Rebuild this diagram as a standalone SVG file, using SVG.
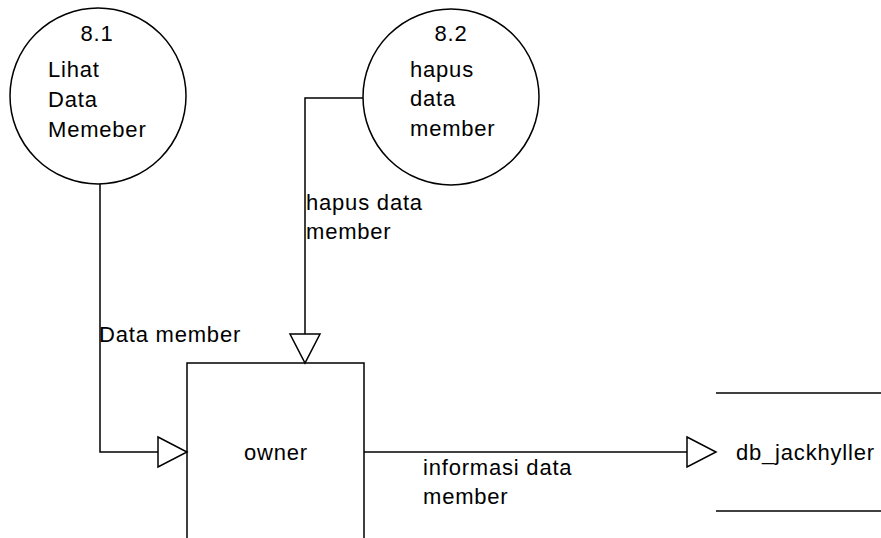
<svg xmlns="http://www.w3.org/2000/svg" width="881" height="538" viewBox="0 0 881 538">
<style>
.t{font-family:"Liberation Sans",Arial,sans-serif;font-size:22px;letter-spacing:0.8px;fill:#000;}
.s{fill:none;stroke:#000;stroke-width:1.5;}
.a{fill:#fff;stroke:#000;stroke-width:1.5;}
</style>
<rect width="881" height="538" fill="#fff"/>
<g id="connectors">
<polyline class="s" points="100,184 100,452 160,452"/>
<polygon class="a" points="158,437 187,452 158,467"/>
<polyline class="s" points="363,98 305,98 305,336"/>
<polygon class="a" points="290,334 320,334 305,363"/>
<line class="s" x1="364" y1="452" x2="688" y2="452"/>
<polygon class="a" points="687,437 716,452 687,467"/>
<text class="t" x="99" y="342">Data member</text>
<text class="t" x="306" y="210">hapus data</text>
<text class="t" x="306" y="239">member</text>
<text class="t" x="423" y="475">informasi data</text>
<text class="t" x="423" y="504">member</text>
</g>
<g id="p81">
<circle class="s" cx="98" cy="96" r="88"/>
<text class="t" x="97" y="41" text-anchor="middle">8.1</text>
<text class="t" x="48" y="77">Lihat</text>
<text class="t" x="48" y="107">Data</text>
<text class="t" x="48" y="137">Memeber</text>
</g>
<g id="p82">
<circle class="s" cx="451" cy="97" r="88"/>
<text class="t" x="451" y="41" text-anchor="middle">8.2</text>
<text class="t" x="410" y="77">hapus</text>
<text class="t" x="410" y="106">data</text>
<text class="t" x="410" y="136">member</text>
</g>
<g id="owner">
<rect class="s" x="187" y="363" width="177" height="190"/>
<text class="t" x="244" y="460">owner</text>
</g>
<g id="db">
<line class="s" x1="716" y1="393" x2="881" y2="393"/>
<line class="s" x1="716" y1="511" x2="881" y2="511"/>
<text class="t" x="736" y="460">db_jackhyller</text>
</g>
</svg>
